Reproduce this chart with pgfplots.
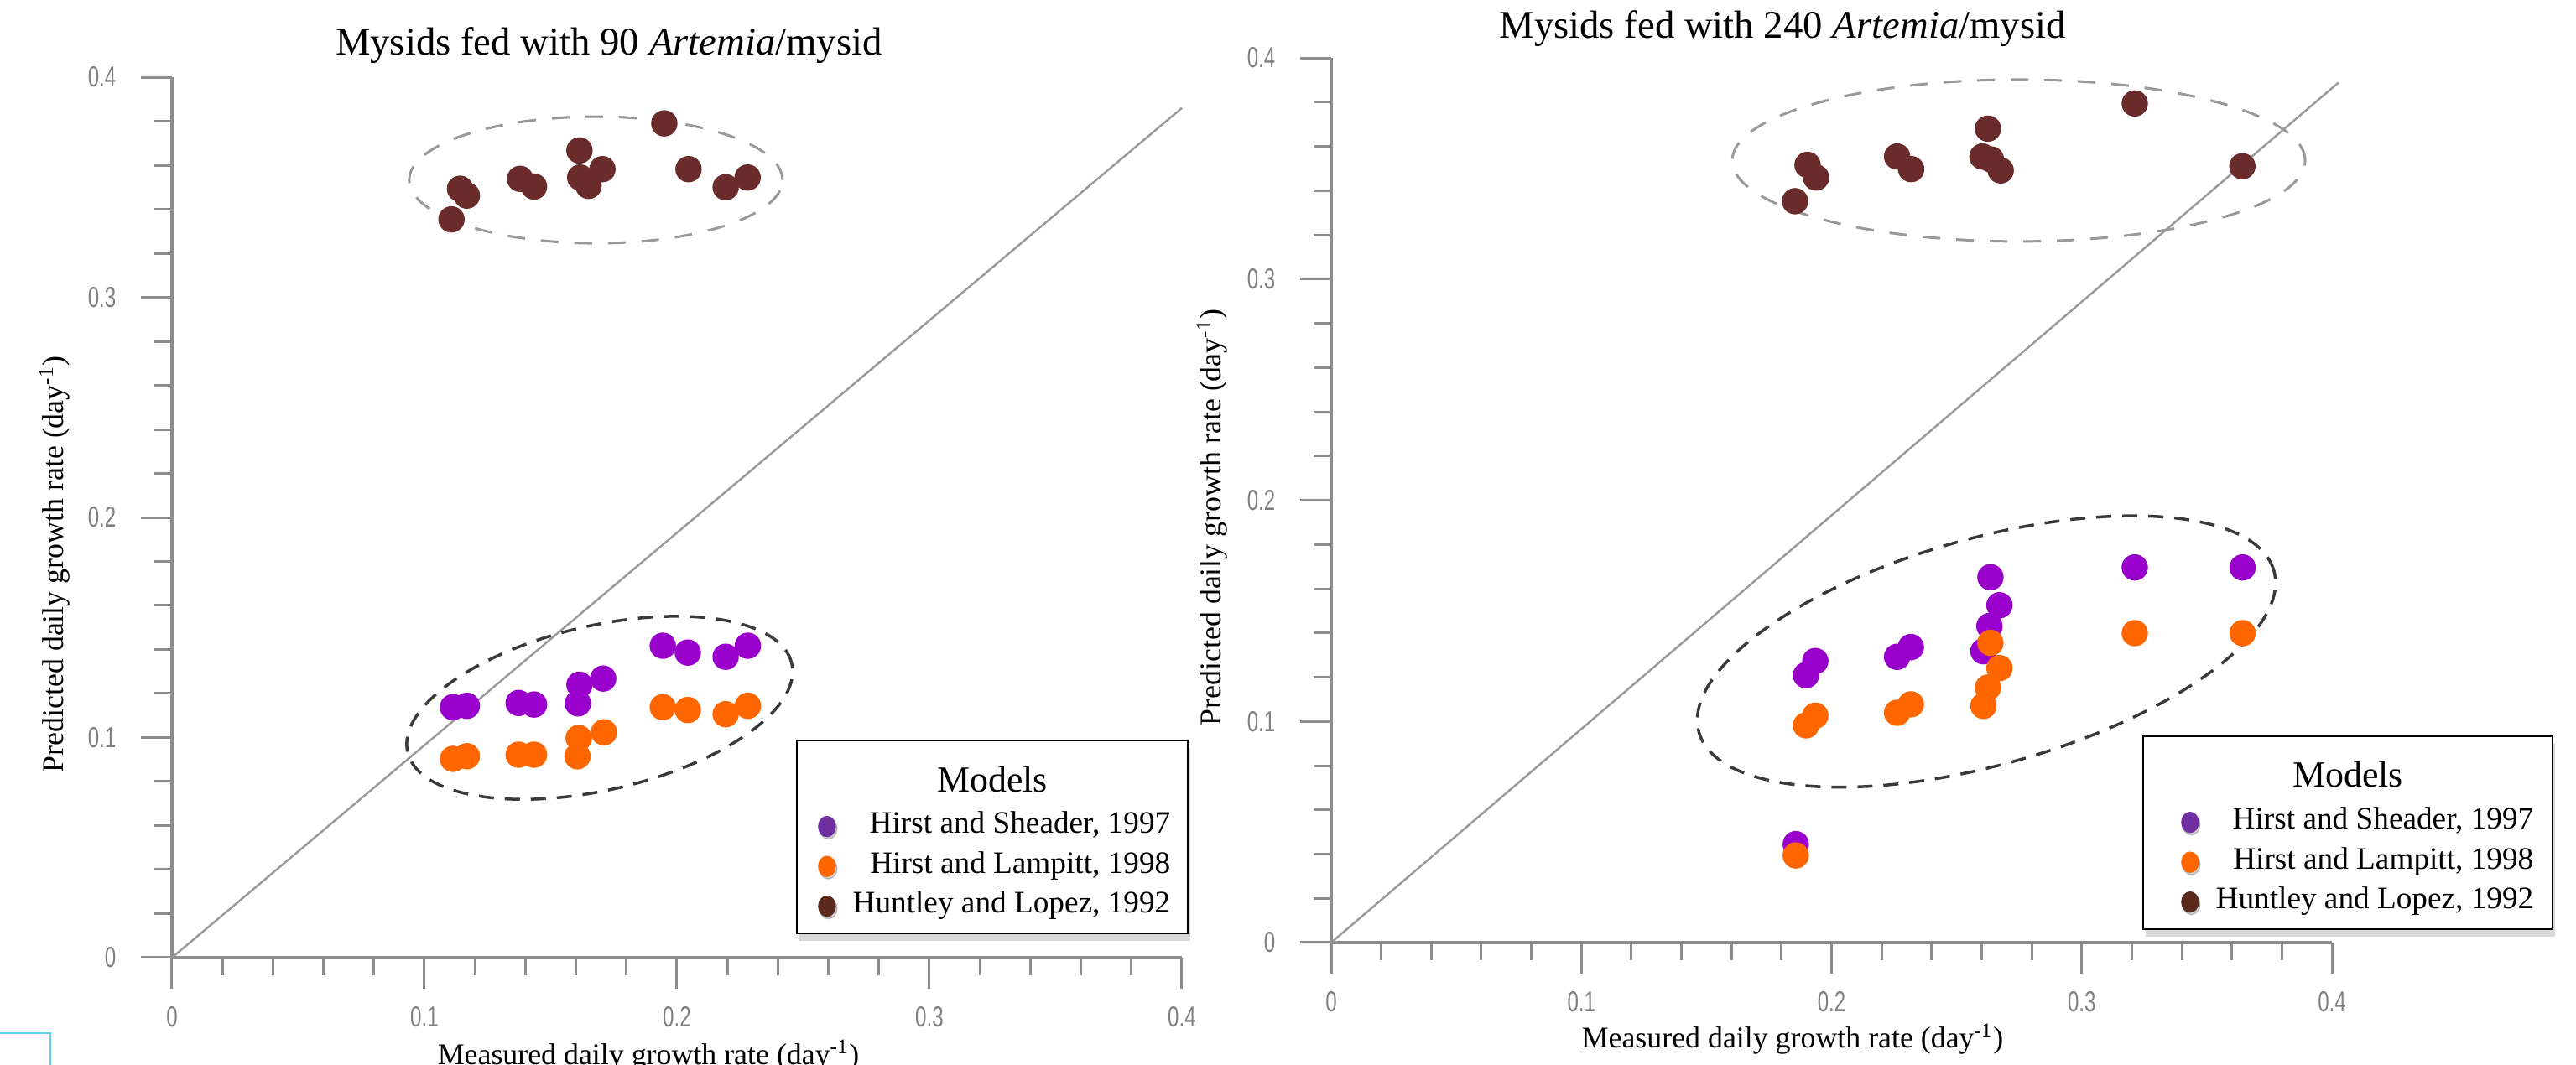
\documentclass[border=0pt]{standalone}
\usepackage{fontspec}
\setmainfont{Liberation Serif}
\newfontfamily\ticksfont[FakeStretch=0.7]{Liberation Sans}
\usepackage{pgfplots}
\pgfplotsset{compat=1.18}
\usetikzlibrary{shadows}

\definecolor{datpurple}{HTML}{9900CC}
\definecolor{datorange}{HTML}{FF6600}
\definecolor{datbrown}{HTML}{6A2B2B}
\definecolor{legpurple}{HTML}{7030A0}
\definecolor{legorange}{HTML}{FF6600}
\definecolor{legbrown}{HTML}{5C2A1C}
\definecolor{axgray}{HTML}{8C8C8C}
\definecolor{lblgray}{HTML}{808080}
\definecolor{diaggray}{HTML}{9A9A9A}
\definecolor{ellgray}{HTML}{999999}
\definecolor{elldark}{HTML}{3A3A3A}

\pgfplotsset{
  growth/.style={
    scale only axis, anchor=south west,
    xmin=0, xmax=0.4, ymin=0, ymax=0.4,
    axis lines=left,
    axis line style={-, draw=axgray, line width=0.4mm},
    xtick={0,0.1,0.2,0.3,0.4}, ytick={0,0.1,0.2,0.3,0.4},
    minor tick num=4,
    tick align=outside,
    major tick length=3.7mm, minor tick length=2.1mm,
    tick style={draw=axgray, line width=0.3mm},
    tick label style={font=\ticksfont\fontsize{9.8}{10}\selectfont, text=lblgray, inner sep=0pt},
    /pgf/number format/assume math mode=true,
    xticklabel style={anchor=center, yshift=-3.4mm},
    yticklabel style={anchor=east, xshift=-2.9mm},
    clip=false,
    label style={font=\fontsize{10.2}{12}\selectfont},
    title style={font=\fontsize{13.3}{16}\selectfont, anchor=base, yshift=-6pt},
    legend cell align=right,
    legend style={draw=none, fill=none, inner sep=0pt, anchor=north east,
      font=\fontsize{10.6}{12}\selectfont, row sep=1.15mm, column sep=1.8mm,
      cells={anchor=base east},
      nodes={inner sep=0pt, text height=2.6mm, text depth=1mm}},
    legend image code/.code={
      \fill[black, opacity=0.18] (0.15mm,0.55mm) ellipse [x radius=1.05mm, y radius=1.25mm];
      \fill (0mm,0.8mm) ellipse [x radius=1mm, y radius=1.2mm];
    },
  },
  dot/.style={only marks, mark=*, mark size=1.5mm, forget plot},
}

\begin{document}
\begin{tikzpicture}
% legend frames
\draw[fill=white, line width=0.25mm, drop shadow={shadow xshift=0.3mm, shadow yshift=-0.9mm, opacity=0.3}]
  (95.0mm,15.7mm) rectangle (141.6mm,38.7mm);
\node[anchor=base, font=\fontsize{12.5}{14}\selectfont] at (118.3mm,32.5mm) {Models};
\draw[fill=white, line width=0.25mm, drop shadow={shadow xshift=0.3mm, shadow yshift=-0.9mm, opacity=0.3}]
  (255.5mm,16.2mm) rectangle (304.3mm,39.2mm);
\node[anchor=base, font=\fontsize{12.5}{14}\selectfont] at (279.9mm,33.1mm) {Models};

% left panel: 90 Artemia/mysid
\begin{axis}[growth,
  at={(20.5mm,12.8mm)}, width=120.4mm, height=105mm,
  title={Mysids fed with 90 \textit{Artemia}/mysid},
  title style={at={(axis description cs:0.4327,1.0257)}},
  xlabel={Measured daily growth rate (day\textsuperscript{-1})},
  xlabel style={at={(axis description cs:0.4718,-0.121)}, anchor=base},
  ylabel={Predicted daily growth rate (day\textsuperscript{-1})},
  ylabel style={at={(axis description cs:-0.1163,0.4467)}, anchor=center},
  legend style={at={(axis description cs:0.9892,0.1667)}},
]
\addplot[dot, color=datpurple] coordinates {
  (0.1113,0.1138) (0.1168,0.1144) (0.1373,0.1157) (0.1434,0.1150) (0.1608,0.1155)
  (0.1614,0.1240) (0.1708,0.1268) (0.1944,0.1417) (0.2043,0.1386) (0.2193,0.1367) (0.2281,0.1417)};
\addplot[dot, color=datorange] coordinates {
  (0.1113,0.0903) (0.1168,0.0915) (0.1373,0.0922) (0.1434,0.0922) (0.1606,0.0915)
  (0.1611,0.0998) (0.1711,0.1024) (0.1944,0.1138) (0.2043,0.1125) (0.2193,0.1106) (0.2281,0.1144)};
\addplot[dot, color=datbrown] coordinates {
  (0.1950,0.3790) (0.1614,0.3667) (0.1705,0.3582) (0.1617,0.3544) (0.1650,0.3506)
  (0.2046,0.3582) (0.2280,0.3544) (0.2193,0.3500) (0.1379,0.3538) (0.1434,0.3503)
  (0.1141,0.3493) (0.1168,0.3462) (0.1107,0.3354)};
\addplot[diaggray, line width=0.25mm, forget plot] coordinates {(0,0) (0.4,0.386)};
\draw[ellgray, dash pattern=on 2.1mm off 1.9mm, line width=0.3mm]
  (axis cs:0.1679,0.3533) ellipse [x radius=22.25mm, y radius=7.55mm];
\draw[elldark, dash pattern=on 1.8mm off 1.3mm, line width=0.35mm, rotate around={13:(axis cs:0.1694,0.1135)}]
  (axis cs:0.1694,0.1135) ellipse [x radius=23.5mm, y radius=9.8mm];
\addlegendimage{legpurple}\addlegendentry{Hirst and Sheader, 1997}
\addlegendimage{legorange}\addlegendentry{Hirst and Lampitt, 1998}
\addlegendimage{legbrown}\addlegendentry{Huntley and Lopez, 1992}
\end{axis}

% right panel: 240 Artemia/mysid
\begin{axis}[growth,
  at={(158.7mm,14.6mm)}, width=119.3mm, height=105.5mm,
  title={Mysids fed with 240 \textit{Artemia}/mysid},
  title style={at={(axis description cs:0.451,1.0227)}},
  xlabel={Measured daily growth rate (day\textsuperscript{-1})},
  xlabel style={at={(axis description cs:0.461,-0.1194)}, anchor=base},
  ylabel={Predicted daily growth rate (day\textsuperscript{-1})},
  ylabel style={at={(axis description cs:-0.119,0.4806)}, anchor=center},
  legend style={at={(axis description cs:1.2020,0.1536)}},
]
\addplot[dot, color=datpurple] coordinates {
  (0.1857,0.0445) (0.1898,0.1209) (0.1935,0.1273) (0.2262,0.1292) (0.2317,0.1336)
  (0.2607,0.1317) (0.2631,0.1431) (0.2671,0.1525) (0.2635,0.1652) (0.3212,0.1696) (0.3643,0.1696)};
\addplot[dot, color=datorange] coordinates {
  (0.1857,0.0394) (0.1898,0.0982) (0.1935,0.1026) (0.2262,0.1039) (0.2317,0.1077)
  (0.2607,0.1070) (0.2625,0.1153) (0.2671,0.1241) (0.2635,0.1355) (0.3212,0.1399) (0.3643,0.1399)};
\addplot[dot, color=datbrown] coordinates {
  (0.1854,0.3352) (0.1904,0.3516) (0.1938,0.3459) (0.2262,0.3554) (0.2318,0.3497)
  (0.2625,0.3680) (0.2603,0.3554) (0.2637,0.3541) (0.2676,0.3491) (0.3212,0.3794) (0.3642,0.3510)};
\addplot[diaggray, line width=0.25mm, forget plot] coordinates {(0,0) (0.4027,0.3889)};
\draw[ellgray, dash pattern=on 2.1mm off 1.9mm, line width=0.3mm]
  (axis cs:0.2748,0.3536) ellipse [x radius=34.15mm, y radius=9.65mm];
\draw[elldark, dash pattern=on 1.8mm off 1.3mm, line width=0.35mm, rotate around={15.7:(axis cs:0.2619,0.1316)}]
  (axis cs:0.2619,0.1316) ellipse [x radius=35.6mm, y radius=13.5mm];
\addlegendimage{legpurple}\addlegendentry{Hirst and Sheader, 1997}
\addlegendimage{legorange}\addlegendentry{Hirst and Lampitt, 1998}
\addlegendimage{legbrown}\addlegendentry{Huntley and Lopez, 1992}
\end{axis}

% small cyan frame in the lower left corner
\draw[cyan!60!white, line width=0.2mm] (0,3.8mm) -- (6mm,3.8mm) -- (6mm,0);

\pgfresetboundingbox
\useasboundingbox (0,0) rectangle (307.1mm,127mm);
\end{tikzpicture}
\end{document}
